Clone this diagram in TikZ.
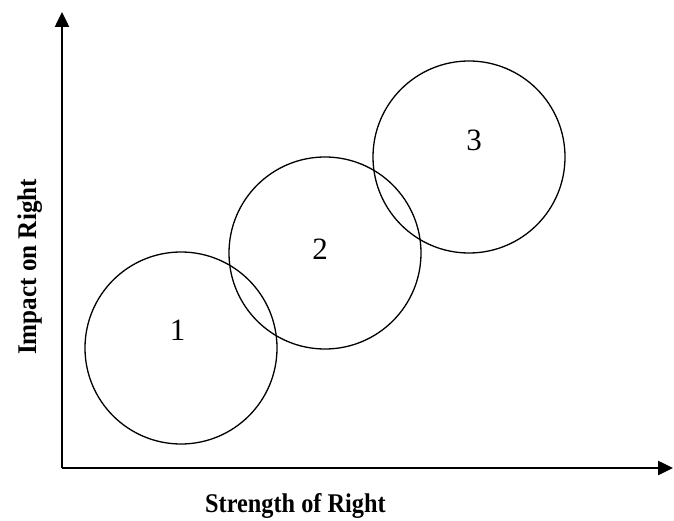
\documentclass[tikz,border=0pt]{standalone}
\usepackage{fontspec}
\setmainfont{Liberation Serif}
\usetikzlibrary{arrows.meta}
\begin{document}
\begin{tikzpicture}[x=1pt,y=-1pt,
  axis/.style={line width=2.5pt,-{Triangle[length=15pt,width=14pt]}},
  ring/.style={circle,draw,line width=1.3pt,minimum size=192pt,inner sep=0pt},
  num/.style={font=\fontsize{31}{33}\selectfont,inner sep=0pt},
  lab/.style={font=\fontsize{27}{29}\selectfont\bfseries,inner sep=0pt}]
\useasboundingbox (0,0) rectangle (674,521);
\coordinate (o) at (62,468);
\coordinate (ytop) at (62,12);
\coordinate (xend) at (673,468);
\draw[axis] (o) -- (ytop);
\draw[axis] (o) -- (xend);
\node[ring] (c1) at (181,348) {};
\node[ring] (c2) at (325,253) {};
\node[ring] (c3) at (469,157) {};
\node[num] (n1) at (177.5,330.5) {1};
\node[num] (n2) at (320,249) {2};
\node[num] (n3) at (474,140) {3};
\node[lab,anchor=base west] (xl) at (205,512) {\scalebox{0.9}[1]{Strength of Right}};
\node[lab,rotate=90,anchor=base west] (yl) at (36,355) {\scalebox{0.93}[1]{Impact on Right}};
\end{tikzpicture}
\end{document}
